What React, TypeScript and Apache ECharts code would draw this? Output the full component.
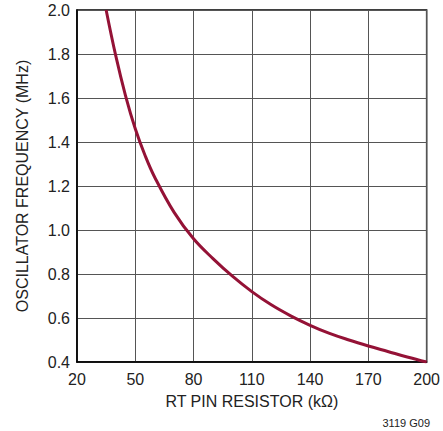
import React, { useEffect, useRef } from "react";
import * as echarts from "echarts";

const resistanceK = [35, 40, 45, 50, 55, 60, 70, 80, 90, 100, 110, 120, 130, 140, 150, 160, 170, 180, 190, 200];
const frequencyMHz = [2.0, 1.79, 1.61, 1.46, 1.34, 1.24, 1.08, 0.96, 0.87, 0.79, 0.72, 0.66, 0.61, 0.567, 0.53, 0.5, 0.473, 0.448, 0.423, 0.4];
const xStart = 20;
const xEnd = 200;
const xStep = 30;
const yMin = 0.4;
const yMax = 2.0;
const yStep = 0.2;
const xTitle = "RT PIN RESISTOR (kΩ)";
const yTitle = "OSCILLATOR FREQUENCY (MHz)";
const figureNote = "3119 G09";

const FONT = "'Liberation Sans Narrow', 'Liberation Sans', Arial, sans-serif";

export default function App() {
  const ref = useRef<HTMLDivElement>(null);
  useEffect(() => {
    document.body.style.margin = "0";
    if (!ref.current) return;
    const chart = echarts.init(ref.current, null, { renderer: "svg" });
    const data = resistanceK.map((r, i) => [r - xStart, frequencyMHz[i]]);
    chart.setOption({
      animation: false,
      backgroundColor: "#fff",
      grid: {
        left: 77,
        top: 10,
        right: 14,
        bottom: 69,
        show: true,
        borderColor: "#000",
        borderWidth: 1.5,
      },
      xAxis: {
        type: "value",
        min: 0,
        max: xEnd - xStart,
        interval: xStep,
        name: xTitle,
        nameLocation: "middle",
        nameGap: 31,
        nameTextStyle: { fontFamily: FONT, fontSize: 16, color: "#222" },
        axisLine: { show: true, lineStyle: { color: "#000", width: 1.5 } },
        axisTick: { show: false },
        axisLabel: {
          margin: 9,
          fontFamily: FONT,
          fontSize: 16,
          color: "#222",
          formatter: (v: number) => String(Math.round(v + xStart)),
        },
        splitLine: { show: true, lineStyle: { color: "#555", width: 1 } },
      },
      yAxis: {
        type: "value",
        min: yMin,
        max: yMax,
        interval: yStep,
        name: yTitle,
        nameLocation: "middle",
        nameGap: 47,
        nameTextStyle: { fontFamily: FONT, fontSize: 16, color: "#222" },
        axisLine: { show: true, lineStyle: { color: "#000", width: 1.5 } },
        axisTick: { show: false },
        axisLabel: {
          margin: 7,
          fontFamily: FONT,
          fontSize: 16,
          color: "#222",
          formatter: (v: number) => v.toFixed(1),
        },
        splitLine: { show: true, lineStyle: { color: "#555", width: 1 } },
      },
      graphic: [
        {
          type: "text",
          right: 13,
          top: 417,
          style: { text: figureNote, fontFamily: FONT, fontSize: 11, fill: "#222" },
        },
      ],
      series: [
        {
          type: "line",
          data,
          smooth: 0.4,
          showSymbol: false,
          lineStyle: { color: "#941236", width: 3 },
        },
      ],
    });
    return () => chart.dispose();
  }, []);
  return <div ref={ref} style={{ width: 443, height: 431 }} />;
}
